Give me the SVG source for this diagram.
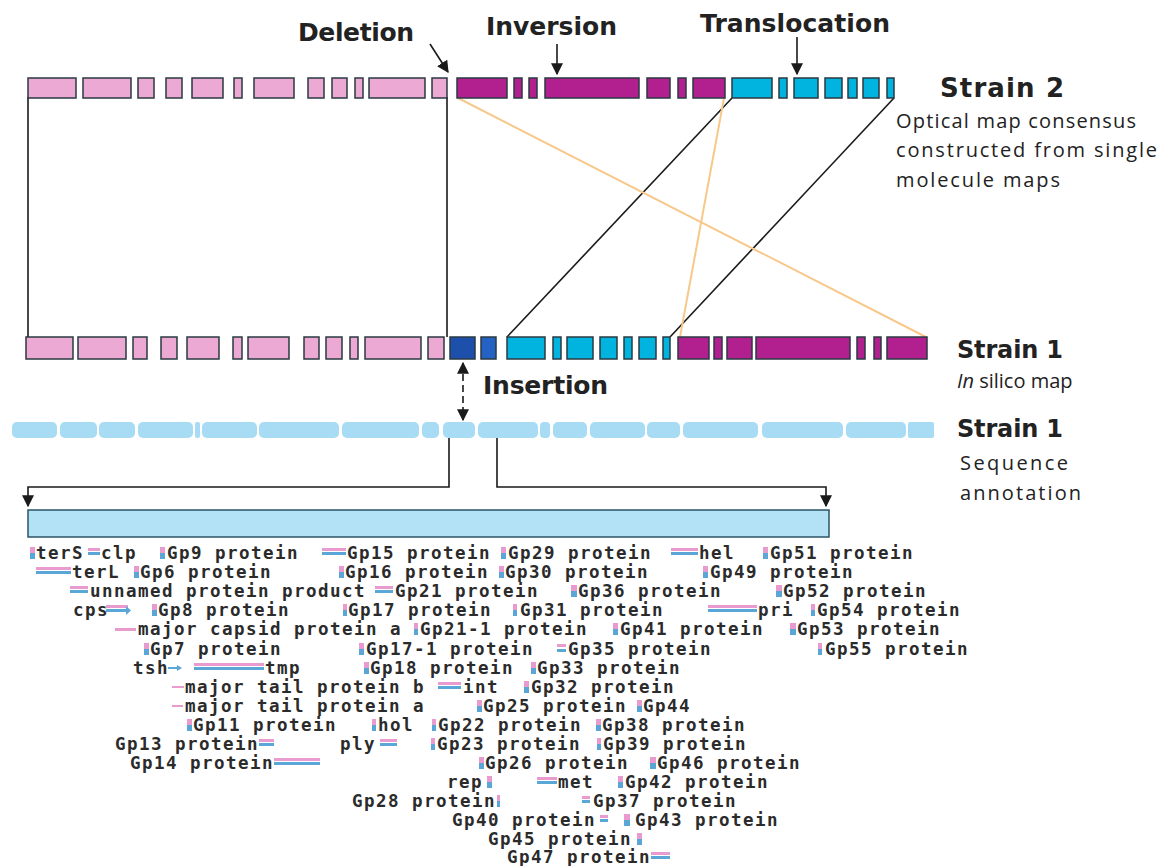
<svg xmlns="http://www.w3.org/2000/svg" width="1160" height="866" viewBox="0 0 1160 866">
<style>
.bx{stroke:#2a3a40;stroke-width:1.5}
.pk{fill:#eba9d3}
.mg{fill:#b21f8e}
.cy{fill:#00b4df}
.db{fill:#1c50aa}
.bl{fill:#2463c3}
.seg{fill:#a7dcf4}
.ln{stroke:#1a1a1a;stroke-width:1.6;fill:none}
.or{stroke:#f8c88a;stroke-width:2;fill:none}
.lab{font-family:"DejaVu Sans","Liberation Sans",sans-serif;font-weight:bold;fill:#222}
.txt{font-family:"Open Sans","Liberation Sans",sans-serif;fill:#222}
.g{font-family:"DejaVu Sans Mono","Liberation Mono",monospace;font-size:17.5px;font-weight:bold;letter-spacing:1.46px;fill:#2b2b2b}
.ip{fill:#e99bd0}
.ib{fill:#5aa6d6}
</style>
<defs>
<marker id="ah2" viewBox="0 0 10 10" refX="9" refY="5" markerWidth="12" markerHeight="12" orient="auto-start-reverse" markerUnits="userSpaceOnUse">
<path d="M0,0 L10,5 L0,10 z" fill="#1a1a1a"/>
</marker>
</defs>
<rect width="1160" height="866" fill="#ffffff"/>

<g id="connectors">
<path class="ln" d="M28,97 V337"/>
<path class="ln" d="M447,97 V337"/>
<path class="ln" d="M732,98 L507,337"/>
<path class="ln" d="M894,98 L670,337"/>
<path class="or" d="M458,98 L926,337"/>
<path class="or" d="M724,98 L680,337"/>
<path class="ln" d="M449,438 V487 H28 V506" marker-end="url(#ah2)"/>
<path class="ln" d="M497,438 V487 H826 V506" marker-end="url(#ah2)"/>
<path class="ln" d="M430,44 L448,72" marker-end="url(#ah2)"/>
<path class="ln" d="M557,44 V74" marker-end="url(#ah2)"/>
<path class="ln" d="M797,37 V74" marker-end="url(#ah2)"/>
<path class="ln" d="M463,363 V420" stroke-dasharray="7,4" marker-start="url(#ah2)" marker-end="url(#ah2)"/>
</g>

<g id="strain2">
<g class="bx pk">
<rect x="28" y="78" width="48" height="20"/><rect x="83" y="78" width="48" height="20"/><rect x="138" y="78" width="16" height="20"/><rect x="166" y="78" width="16" height="20"/><rect x="192" y="78" width="31" height="20"/><rect x="234" y="78" width="8" height="20"/><rect x="254" y="78" width="40" height="20"/><rect x="308" y="78" width="16" height="20"/><rect x="332" y="78" width="15" height="20"/><rect x="355" y="78" width="8" height="20"/><rect x="369" y="78" width="56" height="20"/><rect x="432" y="78" width="15" height="20"/>
</g>
<g class="bx mg">
<rect x="457" y="78" width="50" height="20"/><rect x="514" y="78" width="8" height="20"/><rect x="529" y="78" width="8" height="20"/><rect x="545" y="78" width="94" height="20"/><rect x="647" y="78" width="23" height="20"/><rect x="678" y="78" width="8" height="20"/><rect x="693" y="78" width="32" height="20"/>
</g>
<g class="bx cy">
<rect x="732" y="78" width="40" height="20"/><rect x="779" y="78" width="8" height="20"/><rect x="794" y="78" width="24" height="20"/><rect x="825" y="78" width="17" height="20"/><rect x="848" y="78" width="9" height="20"/><rect x="863" y="78" width="16" height="20"/><rect x="887" y="78" width="7" height="20"/>
</g>
</g>

<g id="strain1">
<g class="bx pk">
<rect x="26" y="337" width="47" height="22"/><rect x="78" y="337" width="48" height="22"/><rect x="133" y="337" width="14" height="22"/><rect x="161" y="337" width="16" height="22"/><rect x="187" y="337" width="32" height="22"/><rect x="233" y="337" width="9" height="22"/><rect x="248" y="337" width="41" height="22"/><rect x="304" y="337" width="15" height="22"/><rect x="326" y="337" width="16" height="22"/><rect x="350" y="337" width="8" height="22"/><rect x="365" y="337" width="56" height="22"/><rect x="428" y="337" width="16" height="22"/>
</g>
<rect class="bx db" x="450" y="337" width="25" height="22"/>
<rect class="bx bl" x="481" y="337" width="15" height="22"/>
<g class="bx cy">
<rect x="507" y="337" width="38" height="22"/><rect x="553" y="337" width="8" height="22"/><rect x="567" y="337" width="26" height="22"/><rect x="600" y="337" width="17" height="22"/><rect x="624" y="337" width="8" height="22"/><rect x="639" y="337" width="17" height="22"/><rect x="663" y="337" width="7" height="22"/>
</g>
<g class="bx mg">
<rect x="678" y="337" width="31" height="22"/><rect x="714" y="337" width="8" height="22"/><rect x="727" y="337" width="25" height="22"/><rect x="756" y="337" width="94" height="22"/><rect x="857" y="337" width="8" height="22"/><rect x="874" y="337" width="7" height="22"/><rect x="887" y="337" width="40" height="22"/>
</g>
</g>

<g id="sequence">
<g class="seg">
<rect x="12" y="422" width="45" height="16" rx="5"/><rect x="60" y="422" width="37" height="16" rx="5"/><rect x="99" y="422" width="36" height="16" rx="5"/><rect x="138" y="422" width="55" height="16" rx="5"/><rect x="195" y="422" width="5" height="16" rx="2"/><rect x="202" y="422" width="55" height="16" rx="5"/><rect x="259" y="422" width="80" height="16" rx="5"/><rect x="342" y="422" width="77" height="16" rx="5"/><rect x="422" y="422" width="17" height="16" rx="5"/><rect x="443" y="422" width="32" height="16" rx="5"/><rect x="478" y="422" width="60" height="16" rx="5"/><rect x="540" y="422" width="10" height="16" rx="4"/><rect x="553" y="422" width="34" height="16" rx="5"/><rect x="590" y="422" width="55" height="16" rx="5"/><rect x="647" y="422" width="33" height="16" rx="5"/><rect x="683" y="422" width="75" height="16" rx="5"/><rect x="762" y="422" width="81" height="16" rx="5"/><rect x="846" y="422" width="60" height="16" rx="5"/><rect x="908" y="422" width="26" height="16" rx="2"/>
</g>
</g>

<g id="annotation-bar">
<rect x="28" y="510" width="801" height="27" fill="#b3e1f6" stroke="#2a5566" stroke-width="1.5"/>
</g>

<g id="labels">
<text class="lab" x="298" y="41" font-size="25" textLength="116">Deletion</text>
<text class="lab" x="486" y="35" font-size="25" textLength="131">Inversion</text>
<text class="lab" x="700" y="32" font-size="25" textLength="190">Translocation</text>
<text class="lab" x="940" y="97" font-size="26" textLength="124">Strain 2</text>
<text class="txt" x="896" y="128" font-size="20" textLength="240">Optical map consensus</text>
<text class="txt" x="896" y="157" font-size="20" textLength="261">constructed from single</text>
<text class="txt" x="896" y="187" font-size="20" textLength="164">molecule maps</text>
<text class="lab" x="957" y="358" font-size="24" textLength="106">Strain 1</text>
<text class="txt" x="957" y="388" font-size="20"><tspan font-style="italic">In</tspan> silico map</text>
<text class="lab" x="483" y="394" font-size="25" textLength="125">Insertion</text>
<text class="lab" x="957" y="437" font-size="24" textLength="106">Strain 1</text>
<text class="txt" x="960" y="470" font-size="20" textLength="108">Sequence</text>
<text class="txt" x="960" y="500" font-size="20" textLength="121">annotation</text>
</g>

<g id="genes">
<g class="g">
<text x="36" y="559">terS</text><text x="101" y="559">clp</text><text x="167" y="559">Gp9 protein</text><text x="347" y="559">Gp15 protein</text><text x="508" y="559">Gp29 protein</text><text x="699" y="559">hel</text><text x="770" y="559">Gp51 protein</text>
<text x="72" y="578">terL</text><text x="140" y="578">Gp6 protein</text><text x="345" y="578">Gp16 protein</text><text x="505" y="578">Gp30 protein</text><text x="710" y="578">Gp49 protein</text>
<text x="90" y="597">unnamed protein product</text><text x="395" y="597">Gp21 protein</text><text x="578" y="597">Gp36 protein</text><text x="783" y="597">Gp52 protein</text>
<text x="73" y="616">cps</text><text x="158" y="616">Gp8 protein</text><text x="348" y="616">Gp17 protein</text><text x="520" y="616">Gp31 protein</text><text x="758" y="616">pri</text><text x="817" y="616">Gp54 protein</text>
<text x="138" y="635">major capsid protein a</text><text x="420" y="635">Gp21-1 protein</text><text x="620" y="635">Gp41 protein</text><text x="797" y="635">Gp53 protein</text>
<text x="150" y="655">Gp7 protein</text><text x="366" y="655">Gp17-1 protein</text><text x="568" y="655">Gp35 protein</text><text x="825" y="655">Gp55 protein</text>
<text x="133" y="674">tsh</text><text x="265" y="674">tmp</text><text x="370" y="674">Gp18 protein</text><text x="537" y="674">Gp33 protein</text>
<text x="185" y="693">major tail protein b</text><text x="463" y="693">int</text><text x="531" y="693">Gp32 protein</text>
<text x="185" y="712">major tail protein a</text><text x="483" y="712">Gp25 protein</text><text x="643" y="712">Gp44</text>
<text x="193" y="731">Gp11 protein</text><text x="378" y="731">hol</text><text x="438" y="731">Gp22 protein</text><text x="602" y="731">Gp38 protein</text>
<text x="115" y="750">Gp13 protein</text><text x="340" y="750">ply</text><text x="437" y="750">Gp23 protein</text><text x="603" y="750">Gp39 protein</text>
<text x="130" y="769">Gp14 protein</text><text x="485" y="769">Gp26 protein</text><text x="657" y="769">Gp46 protein</text>
<text x="447" y="788">rep</text><text x="558" y="788">met</text><text x="625" y="788">Gp42 protein</text>
<text x="352" y="807">Gp28 protein</text><text x="593" y="807">Gp37 protein</text>
<text x="452" y="826">Gp40 protein</text><text x="635" y="826">Gp43 protein</text>
<text x="488" y="845">Gp45 protein</text>
<text x="507" y="863">Gp47 protein</text>
</g>
<g class="ip">
<rect x="30" y="547" width="5" height="6"/><rect x="88" y="548" width="12" height="3"/><rect x="160" y="547" width="5" height="6"/><rect x="322" y="548" width="24" height="3"/><rect x="501" y="547" width="5" height="6"/><rect x="671" y="548" width="27" height="3"/><rect x="763" y="547" width="5" height="6"/>
<rect x="36" y="567" width="35" height="3"/><rect x="134" y="566" width="5" height="6"/><rect x="339" y="566" width="5" height="6"/><rect x="499" y="566" width="5" height="6"/><rect x="703" y="566" width="5" height="6"/>
<rect x="70" y="586" width="18" height="3"/><rect x="375" y="586" width="18" height="3"/><rect x="571" y="585" width="6" height="6"/><rect x="776" y="585" width="6" height="6"/>
<rect x="106" y="605" width="22" height="3"/><rect x="152" y="604" width="5" height="6"/><rect x="343" y="604" width="4" height="6"/><rect x="513" y="604" width="4" height="6"/><rect x="708" y="605" width="49" height="3"/><rect x="811" y="604" width="4" height="6"/>
<rect x="115" y="628" width="21" height="3"/><rect x="414" y="623" width="4" height="6"/><rect x="613" y="623" width="5" height="6"/><rect x="790" y="623" width="6" height="6"/>
<rect x="144" y="643" width="5" height="6"/><rect x="359" y="643" width="5" height="6"/><rect x="557" y="644" width="9" height="3"/><rect x="818" y="643" width="4" height="6"/>
<rect x="194" y="663" width="70" height="3"/><rect x="364" y="662" width="5" height="6"/><rect x="531" y="662" width="5" height="6"/>
<rect x="172" y="686" width="12" height="2"/><rect x="438" y="682" width="23" height="3"/><rect x="524" y="681" width="5" height="6"/>
<rect x="172" y="705" width="11" height="2"/><rect x="477" y="700" width="5" height="6"/><rect x="637" y="700" width="5" height="6"/>
<rect x="187" y="719" width="5" height="6"/><rect x="372" y="719" width="4" height="6"/><rect x="432" y="719" width="4" height="6"/><rect x="596" y="719" width="5" height="6"/>
<rect x="259" y="739" width="15" height="3"/><rect x="380" y="739" width="17" height="3"/><rect x="431" y="738" width="4" height="6"/><rect x="597" y="738" width="4" height="6"/>
<rect x="274" y="758" width="46" height="3"/><rect x="479" y="757" width="5" height="6"/><rect x="650" y="757" width="6" height="6"/>
<rect x="487" y="776" width="5" height="6"/><rect x="537" y="777" width="20" height="3"/><rect x="618" y="776" width="5" height="6"/>
<rect x="497" y="795" width="3" height="6"/><rect x="582" y="796" width="8" height="3"/>
<rect x="600" y="815" width="8" height="3"/><rect x="624" y="814" width="6" height="6"/>
<rect x="637" y="833" width="5" height="6"/>
<rect x="651" y="852" width="19" height="3"/>
</g>
<g class="ib">
<rect x="30" y="553" width="5" height="6"/><rect x="88" y="552" width="12" height="3"/><rect x="160" y="553" width="5" height="6"/><rect x="322" y="552" width="24" height="3"/><rect x="501" y="553" width="5" height="6"/><rect x="671" y="552" width="27" height="3"/><rect x="763" y="553" width="5" height="6"/>
<rect x="36" y="571" width="35" height="3"/><rect x="134" y="572" width="5" height="6"/><rect x="339" y="572" width="5" height="6"/><rect x="499" y="572" width="5" height="6"/><rect x="703" y="572" width="5" height="6"/>
<rect x="70" y="590" width="18" height="3"/><rect x="375" y="590" width="18" height="3"/><rect x="571" y="591" width="6" height="6"/><rect x="776" y="591" width="6" height="6"/>
<rect x="106" y="609" width="22" height="3"/><path d="M126,606 L131,610.5 L126,615 z"/><rect x="152" y="610" width="5" height="6"/><rect x="343" y="610" width="4" height="6"/><rect x="513" y="610" width="4" height="6"/><rect x="708" y="609" width="49" height="3"/><rect x="811" y="610" width="4" height="6"/>
<rect x="414" y="629" width="4" height="6"/><rect x="613" y="629" width="5" height="6"/><rect x="790" y="629" width="6" height="6"/>
<rect x="144" y="649" width="5" height="6"/><rect x="359" y="649" width="5" height="6"/><rect x="557" y="649" width="9" height="3"/><rect x="818" y="649" width="4" height="6"/>
<rect x="168" y="667" width="10" height="2"/><path d="M177,665 L182,668 L177,671 z"/><rect x="194" y="667" width="70" height="3"/><rect x="364" y="668" width="5" height="6"/><rect x="531" y="668" width="5" height="6"/>
<rect x="438" y="686" width="23" height="3"/><rect x="524" y="687" width="5" height="6"/>
<rect x="477" y="706" width="5" height="6"/><rect x="637" y="706" width="5" height="6"/>
<rect x="187" y="725" width="5" height="6"/><rect x="372" y="725" width="4" height="6"/><rect x="432" y="725" width="4" height="6"/><rect x="596" y="725" width="5" height="6"/>
<rect x="259" y="743" width="15" height="3"/><rect x="380" y="743" width="17" height="3"/><rect x="431" y="744" width="4" height="6"/><rect x="597" y="744" width="4" height="6"/>
<rect x="274" y="762" width="46" height="3"/><rect x="479" y="763" width="5" height="6"/><rect x="650" y="763" width="6" height="6"/>
<rect x="487" y="782" width="5" height="6"/><rect x="537" y="781" width="20" height="3"/><rect x="618" y="782" width="5" height="6"/>
<rect x="497" y="801" width="3" height="6"/><rect x="582" y="800" width="8" height="3"/>
<rect x="600" y="819" width="8" height="3"/><rect x="624" y="820" width="6" height="6"/>
<rect x="637" y="839" width="5" height="6"/>
<rect x="651" y="856" width="19" height="3"/>
</g>
</g>
</svg>
